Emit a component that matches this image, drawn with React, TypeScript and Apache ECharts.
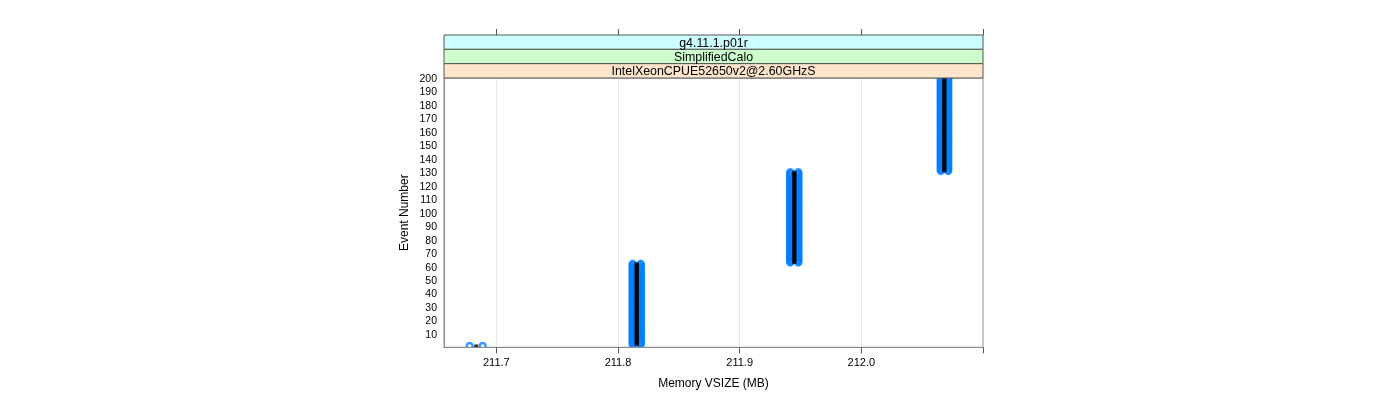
import React, { useEffect, useRef } from "react";
import * as echarts from "echarts";

// Runs of events sharing the same memory readings
const runFirstEvent = [1, 2, 63, 131];
const runLastEvent = [1, 62, 130, 200];
const runMemLow = [211.6781, 211.8121, 211.9416, 212.0653];
const runMemMid = [211.6835, 211.8154, 211.9449, 212.0682];
const runMemHigh = [211.6888, 211.8187, 211.9482, 212.0714];

const xTickValues = [211.7, 211.8, 211.9, 212.0, 212.1];
const xLabelValues = [211.7, 211.8, 211.9, 212.0];
const stripLabels = ["g4.11.1.p01r", "SimplifiedCalo", "IntelXeonCPUE52650v2@2.60GHzS"];
const stripColors = ["#ccffff", "#ccffcc", "#ffe5cc"];

const FONT = "'Liberation Sans', Arial, Helvetica, sans-serif";

export default function App() {
  const ref = useRef<HTMLDivElement>(null);

  useEffect(() => {
    if (!ref.current) return;
    const chart = echarts.init(ref.current, undefined, { renderer: "svg" });

    const low: number[][] = [];
    const mid: number[][] = [];
    const high: number[][] = [];
    runFirstEvent.forEach((first, i) => {
      for (let e = first; e <= runLastEvent[i]; e++) {
        low.push([runMemLow[i], e]);
        mid.push([runMemMid[i], e]);
        high.push([runMemHigh[i], e]);
      }
    });

    const gridLeft = 444;
    const gridTop = 78;
    const gridWidth = 539;
    const gridHeight = 269.3;
    const stripTop = 35;
    const stripH = (gridTop - stripTop) / 3;

    const graphics: any[] = [];
    stripLabels.forEach((lab, i) => {
      const y = stripTop + i * stripH;
      graphics.push({
        type: "rect",
        z: 100,
        shape: { x: gridLeft, y, width: gridWidth, height: stripH },
        style: { fill: stripColors[i], stroke: "#555", lineWidth: 1 },
      });
      graphics.push({
        type: "text",
        z: 101,
        x: gridLeft + gridWidth / 2,
        y: y + stripH / 2 + 0.5,
        style: {
          text: lab,
          fill: "#000",
          font: `12.4px ${FONT}`,
          align: "center",
          verticalAlign: "middle",
        },
      });
    });
    // mask below the plot so bottom points are clipped at the axis like the reference
    graphics.push({
      type: "rect",
      z: 50,
      shape: { x: gridLeft - 1, y: gridTop + gridHeight + 0.5, width: gridWidth + 2, height: 5 },
      style: { fill: "#fff" },
    });

    const blueSym = {
      type: "scatter",
      symbol: "circle",
      symbolSize: 6,
      itemStyle: { color: "rgba(0,0,0,0)", borderColor: "#0080ff", borderWidth: 2.4 },
      silent: true,
    };

    chart.setOption({
      animation: false,
      grid: {
        left: gridLeft,
        top: gridTop,
        width: gridWidth,
        height: gridHeight,
        show: true,
        borderColor: "#8c8c8c",
        borderWidth: 1,
        backgroundColor: "transparent",
      },
      xAxis: [
        {
          type: "value",
          min: 211.657,
          max: 212.1,
          position: "bottom",
          name: "Memory VSIZE (MB)",
          nameLocation: "middle",
          nameGap: 30,
          nameTextStyle: { fontFamily: FONT, fontSize: 12, color: "#000" },
          axisLine: { show: true, lineStyle: { color: "#8c8c8c" } },
          axisTick: {
            show: true,
            length: 6,
            customValues: xTickValues,
            lineStyle: { color: "#555" },
          },
          axisLabel: {
            customValues: xLabelValues,
            formatter: (v: number) => v.toFixed(1),
            fontFamily: FONT,
            fontSize: 11,
            color: "#000",
            margin: 9,
          },
          splitLine: { show: false },
          z: 60,
        },
        {
          type: "value",
          min: 211.657,
          max: 212.1,
          position: "top",
          offset: gridTop - stripTop,
          axisLine: { show: false },
          axisTick: {
            show: true,
            length: 6,
            customValues: xTickValues,
            lineStyle: { color: "#555" },
          },
          axisLabel: { show: false },
          splitLine: { show: false },
        },
      ],
      yAxis: {
        type: "value",
        min: 0,
        max: 200,
        interval: 10,
        name: "Event Number",
        nameLocation: "middle",
        nameGap: 34,
        nameTextStyle: { fontFamily: FONT, fontSize: 12, color: "#000" },
        axisLine: { show: true, lineStyle: { color: "#8c8c8c" } },
        axisTick: { show: false },
        axisLabel: {
          formatter: (v: number) => (v === 0 ? "" : String(v)),
          fontFamily: FONT,
          fontSize: 10.5,
          color: "#000",
          margin: 7,
        },
        splitLine: { show: false },
      },
      graphic: { elements: graphics },
      series: [
        {
          type: "scatter",
          data: [],
          silent: true,
          markLine: {
            silent: true,
            symbol: "none",
            label: { show: false },
            lineStyle: { color: "#e8e8e8", width: 1, type: "solid" },
            data: xLabelValues.map((v) => ({ xAxis: v })),
          },
          z: 1,
        },
        { ...blueSym, data: low, z: 2 },
        { ...blueSym, data: high, z: 2 },
        {
          type: "scatter",
          symbol: "rect",
          symbolSize: [4, 3],
          itemStyle: { color: "#000" },
          data: mid,
          silent: true,
          z: 3,
        },
      ],
    });

    return () => chart.dispose();
  }, []);

  return (
    <div
      ref={ref}
      style={{ position: "fixed", left: 0, top: 0, width: 1400, height: 400 }}
    />
  );
}
